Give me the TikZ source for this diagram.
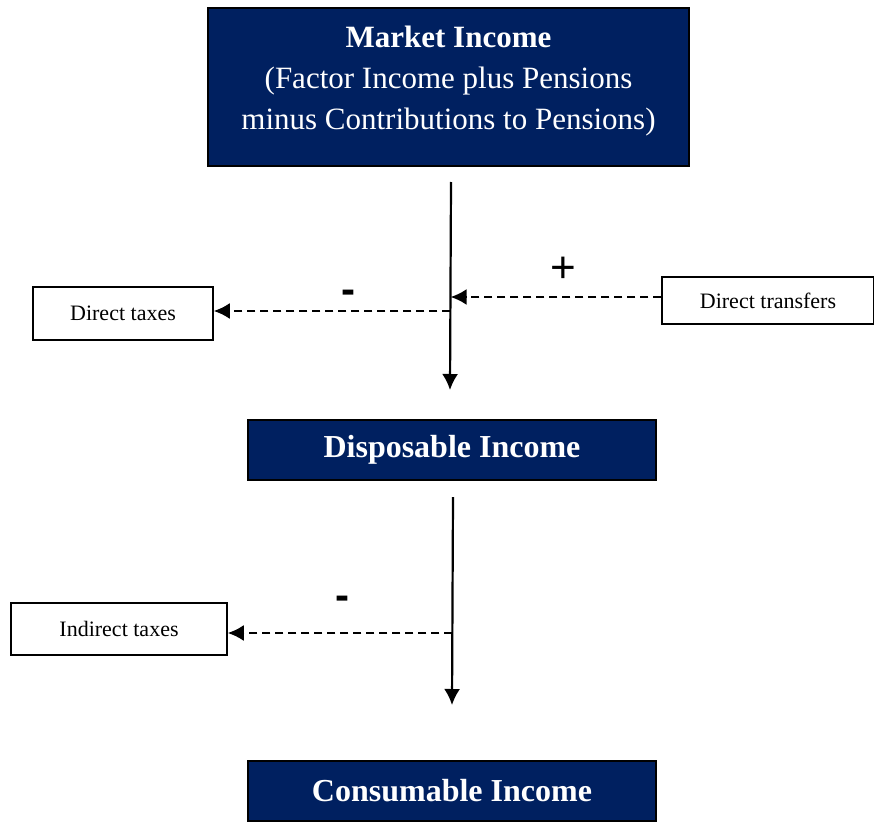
\documentclass[tikz,border=0pt]{standalone}
\usepackage{fontspec}
\setmainfont{Liberation Serif}
\newfontfamily\signfont{Liberation Sans}
\usetikzlibrary{arrows.meta}
\definecolor{navy}{RGB}{0,32,96}

\begin{document}
\begin{tikzpicture}
[x=1pt,y=-1pt,%
  incomebox/.style={shape=rectangle,draw=black,line width=1.5pt,fill=navy,text=white,align=center,inner sep=0pt,font=\bfseries\fontsize{32}{38}\selectfont},%
  flowbox/.style={shape=rectangle,draw=black,line width=1.5pt,fill=white,inner sep=0pt,font=\fontsize{22}{26}\selectfont},%
  flow/.style={-{Latex[length=16pt,width=16pt]},line width=2.2pt},%
  sideflow/.style={-{Latex[length=16pt,width=16pt]},line width=2.2pt,dash pattern=on 8pt off 5pt},%
  sign/.style={font=\signfont\bfseries\fontsize{42}{42}\selectfont,inner sep=0pt}]
\useasboundingbox (0,0) rectangle (874,821);
% income stages
\node[incomebox,minimum width=481pt,minimum height=158pt] (mkt) at (448.5,87) {};
\node[text=white,align=center,inner sep=0pt,font=\fontsize{31}{41}\selectfont] (mkttext) at ([yshift=6pt]mkt.center)
  {\textbf{Market Income}\\(Factor Income plus Pensions\\minus Contributions to Pensions)};
\node[incomebox,minimum width=408pt,minimum height=60pt] (disp) at (452,450) {Disposable Income};
\node[incomebox,minimum width=408pt,minimum height=60pt] (cons) at (452,791) {Consumable Income};
% taxes and transfers
\node[flowbox,minimum width=180pt,minimum height=53pt] (dtax) at (123,313.5) {Direct taxes};
\node[flowbox,minimum width=212pt,minimum height=47pt] (dtrans) at (768,300.5) {Direct transfers};
\node[flowbox,minimum width=216pt,minimum height=52pt] (itax) at (119,629) {Indirect taxes};
% arrow ends
\coordinate (top1) at (451,182);
\coordinate (bot1) at (450,390);
\coordinate (out1) at (450.3,311);
\coordinate (in1) at (450.6,297);
\coordinate (top2) at (453,497);
\coordinate (bot2) at (452,705);
\coordinate (out2) at (452.4,633);
\draw[flow] (top1) -- (bot1);
\draw[sideflow] (out1) -- (dtax.east |- out1);
\draw[sideflow] (dtrans.west |- in1) -- (in1);
\draw[flow] (top2) -- (bot2);
\draw[sideflow] (out2) -- (itax.east |- out2);
% signs
\node[sign] (minus1) at (348,297) {-};
\node[sign,font=\signfont\fontsize{44}{44}\selectfont] (plus1) at (563,270) {+};
\node[sign] (minus2) at (342,603) {-};
\end{tikzpicture}
\end{document}
